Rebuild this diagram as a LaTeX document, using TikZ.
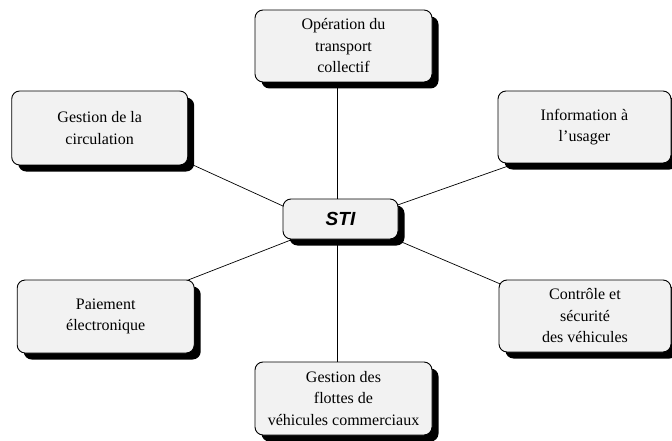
\documentclass[tikz,border=0pt]{standalone}
\usepackage{fontspec}
\setmainfont{Liberation Serif}
\newfontfamily\stifont{Liberation Sans}
\usetikzlibrary{calc,shadows}
\definecolor{boxfill}{HTML}{F2F2F2}
\tikzset{
  card/.style={draw=black, line width=0.9pt, fill=boxfill, rounded corners=8pt,
    drop shadow={shadow xshift=6.5pt, shadow yshift=-6.5pt, fill=black, opacity=1},
    align=center, inner sep=0pt, font=\fontsize{16}{21.5}\selectfont},
  link/.style={draw=black, line width=0.7pt}
}
\begin{document}
\begin{tikzpicture}[x=1pt,y=-1pt]
\useasboundingbox (0,0) rectangle (672,441);
% connectors first (behind the boxes)
\coordinate (c0) at (340.5,219);
\coordinate (ctop) at (343.5,46);
\coordinate (ccirc) at (99.7,128);
\coordinate (cinfo) at (584.5,127);
\coordinate (cpaie) at (105.7,316.5);
\coordinate (cctrl) at (585,316);
\coordinate (cflot) at (343.5,398.5);
\draw[link] ($(ctop)+(-6.5,20)$) -- ($(cflot)+(-6.5,-20)$);
\draw[link] ($(ccirc)+(0,-5.6)$) -- ($(c0)+(-40.5,-5.2)$);
\draw[link] ($(cinfo)+(-44.5,27.8)$) -- ($(c0)+(39.5,-7.8)$);
\draw[link] ($(cpaie)+(64.3,-29.4)$) -- ($(c0)+(-40.5,17.4)$);
\draw[link] ($(cctrl)+(-55,-19.4)$) -- ($(c0)+(39.5,13.8)$);
% boxes
\node[card, minimum width=177pt, minimum height=72pt] (top) at (ctop) {Opération du\\transport\\collectif};
\node[card, minimum width=176pt, minimum height=74pt] (circ) at (ccirc) {Gestion de la\\circulation};
\node[card, minimum width=173pt, minimum height=72pt] (info) at (cinfo) {Information à\\l’usager};
\node[card, minimum width=177pt, minimum height=73pt] (paie) at (cpaie) {Paiement\\électronique};
\node[card, minimum width=172pt, minimum height=72pt] (ctrl) at (cctrl) {Contrôle et\\sécurité\\des véhicules};
\node[card, minimum width=177pt, minimum height=73pt] (flot) at (cflot) {Gestion des\\flottes de\\véhicules commerciaux};
\node[card, minimum width=115pt, minimum height=40pt, font=\stifont\bfseries\itshape\fontsize{19}{22}\selectfont] (sti) at (c0) {STI};
\end{tikzpicture}
\end{document}
